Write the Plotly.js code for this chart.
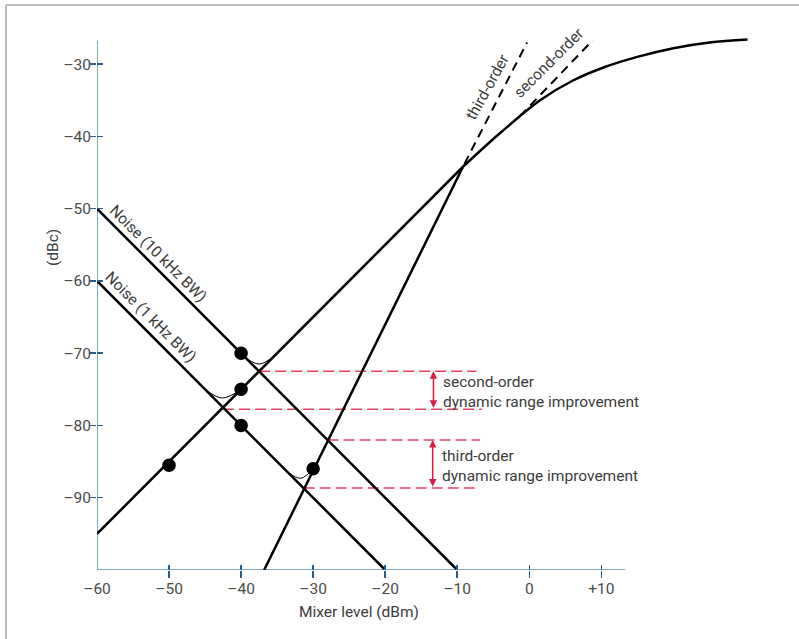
<!DOCTYPE html>
<html>
<head>
<meta charset="utf-8">
<script src="https://cdn.plot.ly/plotly-3.0.1.min.js"></script>
<style>html,body{margin:0;padding:0;background:#fff;}#chart{width:799px;height:639px;}</style>
</head>
<body>
<div id="chart"></div>
<script>
// ---- data ----
const noise10X = [-60, -10];
const noise10Y = [-50, -100];
const noise1X = [-60, -20];
const noise1Y = [-60, -100];
const secondX = [-60, -9.2];
const secondY = [-95, -44.2];
const thirdX = [-36.8, -9.2];
const thirdY = [-100, -44.2];
const compX = [-9.2, -4, 1.5, 6, 10.5, 15, 20, 25, 30.3];
const compY = [-44.2, -39.5, -35.0, -32.3, -30.4, -29.0, -27.8, -27.0, -26.6];
const secondExtX = [-1.3, 8.8];
const secondExtY = [-37.2, -26.7];
const thirdExtX = [-9.0, -0.3];
const thirdExtY = [-43.8, -27.0];
const dotX = [-40, -40, -40, -50, -30];
const dotY = [-70, -75, -80, -85.5, -86];
const arc1X = [-40, -37.5, -35.3];
const arc1Y = [-70.2, -71.5, -70.3];
const arc2X = [-45, -42.6, -40];
const arc2Y = [-75, -76.2, -75];
const arc3X = [-33.5, -31.7, -30];
const arc3Y = [-86.5, -87.3, -86];
const redY = [-72.5, -77.75, -82, -88.67];
const redX0 = [-37.5, -42.5, -28, -31.3];
const redX1 = [-7.3, -6.6, -6.8, -6.9];
const arrowX = [-13.3, -13.4];
const xTickVals = [-60, -50, -40, -30, -20, -10, 0, 10];
const xTickText = ['\u201360', '\u201350', '\u201340', '\u201330', '\u201320', '\u201310', '0', '+10'];
const yTickVals = [-90, -80, -70, -60, -50, -40, -30];
const yTickText = ['\u201390', '\u201380', '\u201370', '\u201360', '\u201350', '\u201340', '\u201330'];
const xRange = [-60, 33];
const yRange = [-100, -25];
const xAxisEnd = 13.3;
const yAxisTop = -26.75;

// ---- styles ----
const FONT = 'Roboto, "Open Sans", sans-serif';
const FS = 15.5;
const TXT = '#3c3c3c';
const AXIS_LINE = '#7ea9cc';
const TICK = '#2b5d8c';
const RED_DASH = '#e5405e';
const RED_ARROW = '#d81e43';

function line(x, y, extra) {
  return Object.assign({x: x, y: y, mode: 'lines', hoverinfo: 'skip', showlegend: false,
    line: {color: '#000', width: 2.5}}, extra || {});
}

const redXs = [], redYs = [];
for (let i = 0; i < redY.length; i++) {
  redXs.push(redX0[i], redX1[i], null);
  redYs.push(redY[i], redY[i], null);
}

const traces = [
  line(redXs, redYs, {line: {color: RED_DASH, width: 1.5, dash: '11px,5px'}}),
  line(noise10X, noise10Y),
  line(noise1X, noise1Y),
  line(secondX, secondY),
  line(thirdX, thirdY),
  line(compX, compY, {line: {color: '#000', width: 2.5, shape: 'spline', smoothing: 1}}),
  line(secondExtX, secondExtY, {line: {color: '#000', width: 2, dash: '9px,6px'}}),
  line(thirdExtX, thirdExtY, {line: {color: '#000', width: 2, dash: '9px,6px'}}),
  line(arc1X, arc1Y, {line: {color: '#000', width: 1, shape: 'spline'}}),
  line(arc2X, arc2Y, {line: {color: '#000', width: 1, shape: 'spline'}}),
  line(arc3X, arc3Y, {line: {color: '#000', width: 1, shape: 'spline'}}),
  {x: dotX, y: dotY, mode: 'markers', hoverinfo: 'skip', showlegend: false,
    marker: {color: '#000', size: 13.5}},
  {x: [0], y: [-60], xaxis: 'x2', yaxis: 'y2', mode: 'markers', hoverinfo: 'skip', showlegend: false, marker: {opacity: 0}},
  {x: [0], y: [-60], xaxis: 'x3', yaxis: 'y3', mode: 'markers', hoverinfo: 'skip', showlegend: false, marker: {opacity: 0}}
];

const baseAxis = {showgrid: false, zeroline: false, showline: false, fixedrange: true};
const tickAxis = (vals, side, len, over, range, anchor) => Object.assign({}, baseAxis, {
  overlaying: over, range: range, tickvals: vals, ticks: side, ticklen: len,
  tickwidth: 1.5, tickcolor: TICK, showticklabels: false, anchor: anchor
});
const tf = {family: FONT, size: FS, color: TXT};

const annotations = [
  {x: -51.5, y: -56.3, xref: 'x', yref: 'y', text: 'Noise (10 kHz BW)', showarrow: false, textangle: 45, font: tf},
  {x: -52.6, y: -65.0, xref: 'x', yref: 'y', text: 'Noise (1 kHz BW)', showarrow: false, textangle: 45, font: tf},
  {x: -5.8, y: -33.1, xref: 'x', yref: 'y', text: 'third-order', showarrow: false, textangle: -61, font: tf},
  {x: 2.7, y: -29.8, xref: 'x', yref: 'y', text: 'second-order', showarrow: false, textangle: -45, font: tf},
  {x: -12.2, y: -75.3, xref: 'x', yref: 'y', xanchor: 'left', align: 'left', showarrow: false,
    text: 'second-order<br>dynamic range improvement', font: tf},
  {x: -12.35, y: -85.55, xref: 'x', yref: 'y', xanchor: 'left', align: 'left', showarrow: false,
    text: 'third-order<br>dynamic range improvement', font: tf},
  {x: arrowX[0], y: redY[0], ax: arrowX[0], ay: redY[1], xref: 'x', yref: 'y', axref: 'x', ayref: 'y',
    text: '', showarrow: true, arrowside: 'end+start', arrowhead: 2, arrowsize: 1, arrowwidth: 1.5,
    arrowcolor: RED_ARROW, standoff: 0, startstandoff: 0},
  {x: arrowX[1], y: redY[2], ax: arrowX[1], ay: redY[3], xref: 'x', yref: 'y', axref: 'x', ayref: 'y',
    text: '', showarrow: true, arrowside: 'end+start', arrowhead: 2, arrowsize: 1, arrowwidth: 1.5,
    arrowcolor: RED_ARROW, standoff: 0, startstandoff: 0},
  {x: -23.6, y: -0.078, xref: 'x', yref: 'paper', xanchor: 'center', yanchor: 'middle',
    text: 'Mixer level (dBm)', showarrow: false, font: tf},
  {x: -0.0657, y: -55.3, xref: 'paper', yref: 'y', xanchor: 'center', yanchor: 'middle',
    text: '(dBc)', showarrow: false, textangle: -90, font: tf}
];

const shapes = [
  {type: 'line', xref: 'x', yref: 'y', x0: xRange[0], x1: xAxisEnd, y0: yRange[0], y1: yRange[0],
    line: {color: AXIS_LINE, width: 2}, layer: 'below'},
  {type: 'line', xref: 'x', yref: 'y', x0: xRange[0], x1: xRange[0], y0: yRange[0], y1: yAxisTop,
    line: {color: AXIS_LINE, width: 2}, layer: 'below'},
  {type: 'line', xref: 'paper', yref: 'paper', x0: -0.1358, x1: 1.1, y0: 1.0424, y1: 1.0424,
    line: {color: '#bdbdbd', width: 2}},
  {type: 'line', xref: 'paper', yref: 'paper', x0: -0.1358, x1: -0.1358, y0: -0.2, y1: 1.0424,
    line: {color: '#bdbdbd', width: 2}}
];

const layout = {
  width: 799, height: 639,
  margin: {l: 97, r: 32, t: 28, b: 69},
  paper_bgcolor: '#fff', plot_bgcolor: 'rgba(0,0,0,0)',
  showlegend: false,
  font: tf,
  xaxis: Object.assign({}, baseAxis, {range: xRange, tickvals: xTickVals, ticktext: xTickText, ticks: '',
    tickfont: {family: FONT, size: FS, color: '#4a4a4a'}, ticklabelstandoff: 7}),
  yaxis: Object.assign({}, baseAxis, {range: yRange, tickvals: yTickVals, ticktext: yTickText, ticks: '',
    tickfont: {family: FONT, size: FS, color: '#4a4a4a'}, ticklabelstandoff: 5}),
  xaxis2: tickAxis(xTickVals.slice(1), 'outside', 7, 'x', xRange, 'y2'),
  yaxis2: tickAxis(yTickVals, 'outside', 6, 'y', yRange, 'x2'),
  xaxis3: tickAxis(xTickVals.slice(1), 'inside', 5, 'x', xRange, 'y3'),
  yaxis3: tickAxis(yTickVals, 'inside', 6, 'y', yRange, 'x3'),
  annotations: annotations,
  shapes: shapes
};

Plotly.newPlot('chart', traces, layout, {displayModeBar: false, staticPlot: true});
</script>
</body>
</html>
